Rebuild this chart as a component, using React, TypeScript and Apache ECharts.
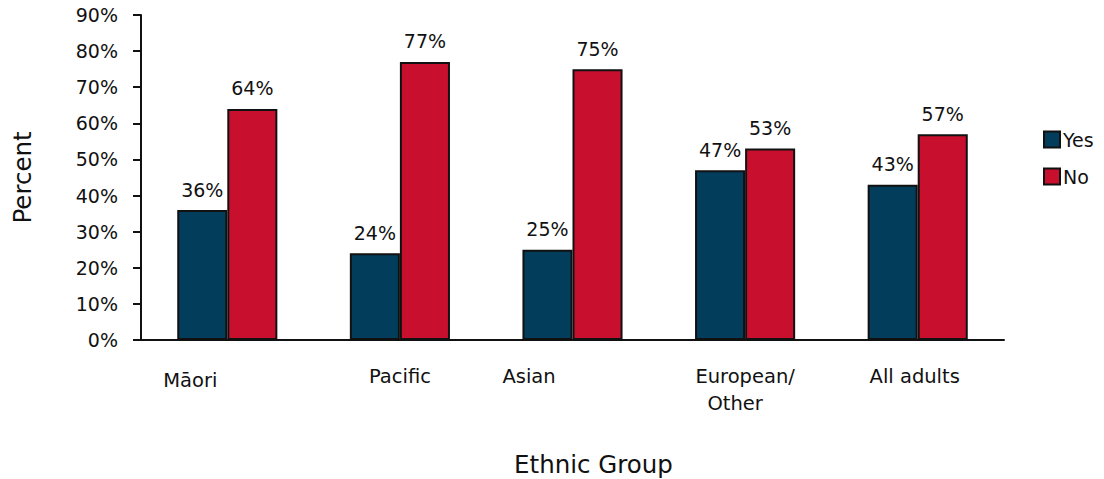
import React, { useEffect, useRef } from "react";
import * as echarts from "echarts";

const categories = ["Māori", "Pacific", "Asian", "European/\nOther", "All adults"];
const yesValues = [36, 24, 25, 47, 43];
const noValues = [64, 77, 75, 53, 57];
// per-category, per-line label nudges (right padding shifts text left by half)
const labelShift = [[74], [0], [87], [0, 20], [6]];
const labelDrop = [8, 0, 0, 0, 0];

export default function App() {
  const ref = useRef<HTMLDivElement>(null);
  useEffect(() => {
    if (!ref.current) return;
    const chart = echarts.init(ref.current, null, { renderer: "svg" });
    const font = "'DejaVu Sans', Verdana, sans-serif";
    const rich: Record<string, any> = {};
    categories.forEach((c, i) => {
      c.split("\n").forEach((_, j) => {
        rich[`c${i}_${j}`] = {
          fontFamily: font,
          fontSize: 19.5,
          color: "#111",
          lineHeight: 27,
          padding: [j === 0 ? labelDrop[i] : 0, labelShift[i][j] || 0, 0, 0],
          align: "center",
        };
      });
    });
    chart.setOption({
      animation: false,
      textStyle: { fontFamily: font },
      grid: { left: 141, right: 100, top: 15, bottom: 139, outerBoundsMode: "none", containLabel: false },
      legend: {
        orient: "vertical",
        left: 1043,
        top: 130,
        padding: 0,
        itemWidth: 16,
        itemHeight: 16,
        itemGap: 18,
        icon: "rect",
        textStyle: { fontSize: 19, color: "#111", fontFamily: font, padding: [0, 0, 0, -2] },
        data: ["Yes", "No"],
      },
      xAxis: {
        type: "category",
        data: categories,
        name: "Ethnic Group",
        nameLocation: "middle",
        nameGap: 112,
        nameTextStyle: { fontSize: 24.5, color: "#111", fontFamily: font, padding: [0, 0, 0, 42] },
        axisLine: { lineStyle: { color: "#111", width: 2 } },
        axisTick: { show: false },
        axisLabel: {
          margin: 23,
          interval: 0,
          formatter: (v: string, i: number) =>
            v
              .split("\n")
              .map((p, j) => `{c${i}_${j}|${p}}`)
              .join("\n"),
          rich,
        },
      },
      yAxis: {
        type: "value",
        min: 0,
        max: 90,
        interval: 10,
        name: "Percent",
        nameLocation: "middle",
        nameGap: 106,
        nameRotate: 90,
        nameTextStyle: { fontSize: 24.5, color: "#111", fontFamily: font },
        axisLine: { show: true, lineStyle: { color: "#111", width: 2 } },
        axisTick: { show: true, length: 8, lineStyle: { color: "#111", width: 2 } },
        splitLine: { show: false },
        axisLabel: {
          formatter: "{value}%",
          fontSize: 19,
          color: "#111",
          margin: 23,
          padding: [6, 0, 0, 0],
          fontFamily: font,
        },
      },
      series: [
        {
          name: "Yes",
          type: "bar",
          data: yesValues,
          barGap: "0%",
          barCategoryGap: "42%",
          itemStyle: { color: "#023d5c", borderColor: "#111", borderWidth: 2 },
          label: {
            show: true,
            position: "top",
            distance: 11,
            formatter: "{c}%",
            fontSize: 19,
            color: "#111",
            fontFamily: font,
          },
        },
        {
          name: "No",
          type: "bar",
          data: noValues,
          itemStyle: { color: "#c8102e", borderColor: "#111", borderWidth: 2 },
          label: {
            show: true,
            position: "top",
            distance: 11,
            formatter: "{c}%",
            fontSize: 19,
            color: "#111",
            fontFamily: font,
          },
        },
      ],
    });
    return () => chart.dispose();
  }, []);
  return (
    <div
      ref={ref}
      style={{ position: "fixed", left: 0, top: 0, width: 1104, height: 479, background: "#fff" }}
    />
  );
}
